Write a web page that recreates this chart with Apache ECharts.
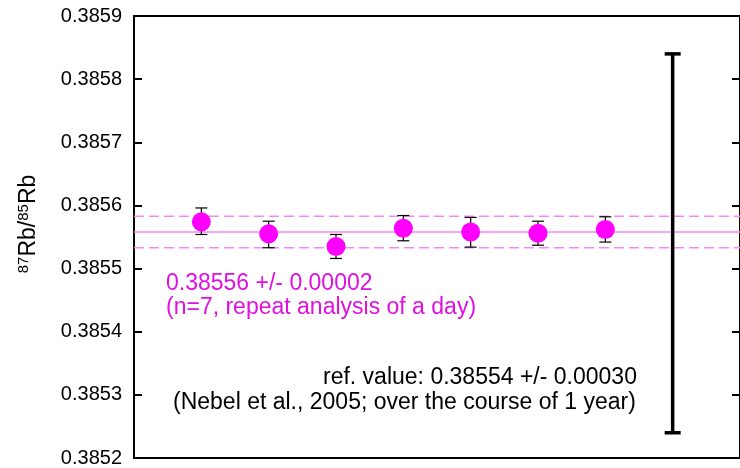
<!DOCTYPE html>
<html>
<head>
<meta charset="utf-8">
<script src="https://cdn.jsdelivr.net/npm/echarts@6/dist/echarts.min.js"></script>
<style>
  html, body { margin: 0; padding: 0; background: #fff; }
  #chart { width: 740px; height: 468px; }
</style>
</head>
<body>
<div id="chart"></div>
<script>
// repeat analyses (x = run number)
const runIndex = [1, 2, 3, 4, 5, 6, 7];
const ratioValues = [0.385574, 0.385555, 0.385535, 0.385564, 0.385558, 0.385556, 0.385562];
const errTop = [0.385596, 0.385575, 0.385554, 0.385584, 0.385581, 0.385575, 0.385582];
const errBottom = [0.385554, 0.385533, 0.385516, 0.385544, 0.385534, 0.385537, 0.385542];

// mean and band of the repeat analyses
const meanValue = 0.385558;
const bandUpper = 0.385583;
const bandLower = 0.385533;

// reference value (Nebel et al., 2005)
const refX = 8;
const refTop = 0.38584;
const refBottom = 0.38524;

// x range and y axis range / ticks
const xMin = 0;
const xMax = 9;
const yMin = 0.3852;
const yMax = 0.3859;
const yStep = 0.0001;

const chart = echarts.init(document.getElementById('chart'));
const FONT = 'Liberation Sans, Arial, sans-serif';
const PINK = '#f389f3';

// vertical bar with caps
function errorBarItem(capHalf, width) {
    return function (params, api) {
        const x = api.value(0);
        const top = api.coord([x, api.value(1)]);
        const bot = api.coord([x, api.value(2)]);
        const style = { stroke: '#000', lineWidth: width };
        return {
            type: 'group',
            children: [
                { type: 'line', shape: { x1: top[0], y1: top[1], x2: bot[0], y2: bot[1] }, style: style },
                { type: 'line', shape: { x1: top[0] - capHalf, y1: top[1], x2: top[0] + capHalf, y2: top[1] }, style: style },
                { type: 'line', shape: { x1: bot[0] - capHalf, y1: bot[1], x2: bot[0] + capHalf, y2: bot[1] }, style: style }
            ]
        };
    };
}

// horizontal line across the whole plot
function hLine(name, value, type) {
    return {
        name: name, type: 'line', silent: true, z: 1,
        symbol: 'none',
        lineStyle: { color: PINK, width: 1.5, type: type },
        data: [[xMin, value], [xMax, value]]
    };
}

const option = {
    animation: false,
    grid: { left: 134, right: -8, top: 16, bottom: 10 },
    xAxis: [
        {
            type: 'value', min: xMin, max: xMax, position: 'bottom',
            axisLine: { show: true, onZero: false, lineStyle: { color: '#000', width: 2 } },
            axisTick: { show: false }, axisLabel: { show: false }, splitLine: { show: false }
        },
        {
            type: 'value', min: xMin, max: xMax, position: 'top',
            axisLine: { show: true, onZero: false, lineStyle: { color: '#000', width: 2 } },
            axisTick: { show: false }, axisLabel: { show: false }, splitLine: { show: false }
        }
    ],
    yAxis: [
        {
            type: 'value', min: yMin, max: yMax, interval: yStep, position: 'left',
            name: '{sup|87}{n|Rb/}{sup|85}{n|Rb}',
            nameLocation: 'middle', nameRotate: 90, nameGap: 92,
            nameTextStyle: {
                padding: [0, 0, 0, 26],
                rich: {
                    n: { fontFamily: FONT, fontSize: 23, color: '#000', lineHeight: 26 },
                    sup: { fontFamily: FONT, fontSize: 15, color: '#000', lineHeight: 15, verticalAlign: 'top' }
                }
            },
            axisLine: { show: true, onZero: false, lineStyle: { color: '#000', width: 2 } },
            axisTick: { show: true, inside: true, length: 8, lineStyle: { color: '#000', width: 2 } },
            axisLabel: {
                margin: 12, color: '#000', fontFamily: FONT, fontSize: 20,
                formatter: v => v.toFixed(4)
            },
            splitLine: { show: false }
        },
        {
            type: 'value', min: yMin, max: yMax, interval: yStep, position: 'right',
            axisLine: { show: true, onZero: false, lineStyle: { color: '#000', width: 2 } },
            axisTick: { show: true, inside: true, length: 8, lineStyle: { color: '#000', width: 2 } },
            axisLabel: { show: false }, splitLine: { show: false }
        }
    ],
    series: [
        hLine('mean', meanValue, 'solid'),
        hLine('upper', bandUpper, [10, 5]),
        hLine('lower', bandLower, [10, 5]),
        {
            name: 'repeat err', type: 'custom', silent: true, z: 3,
            renderItem: errorBarItem(6, 1.2),
            data: runIndex.map((x, i) => [x, errTop[i], errBottom[i]])
        },
        {
            name: 'repeat', type: 'scatter', z: 4,
            symbol: 'circle', symbolSize: 19,
            itemStyle: { color: '#ff00ff', opacity: 1 },
            data: runIndex.map((x, i) => [x, ratioValues[i]])
        },
        {
            name: 'reference', type: 'custom', silent: true, z: 3,
            renderItem: errorBarItem(8, 3.5),
            data: [[refX, refTop, refBottom]]
        }
    ],
    graphic: [
        { type: 'text', left: 166, top: 272, style: { text: '0.38556 +/- 0.00002', fill: '#e010e0', font: '23px ' + FONT } },
        { type: 'text', left: 166, top: 296, style: { text: '(n=7, repeat analysis of a day)', fill: '#e010e0', font: '23px ' + FONT } },
        { type: 'text', left: 323, top: 366, style: { text: 'ref. value: 0.38554 +/- 0.00030', fill: '#000', font: '23px ' + FONT } },
        { type: 'text', left: 173, top: 391, style: { text: '(Nebel et al., 2005; over the course of 1 year)', fill: '#000', font: '23px ' + FONT } }
    ]
};

chart.setOption(option);
window.addEventListener('resize', () => chart.resize());
</script>
</body>
</html>
